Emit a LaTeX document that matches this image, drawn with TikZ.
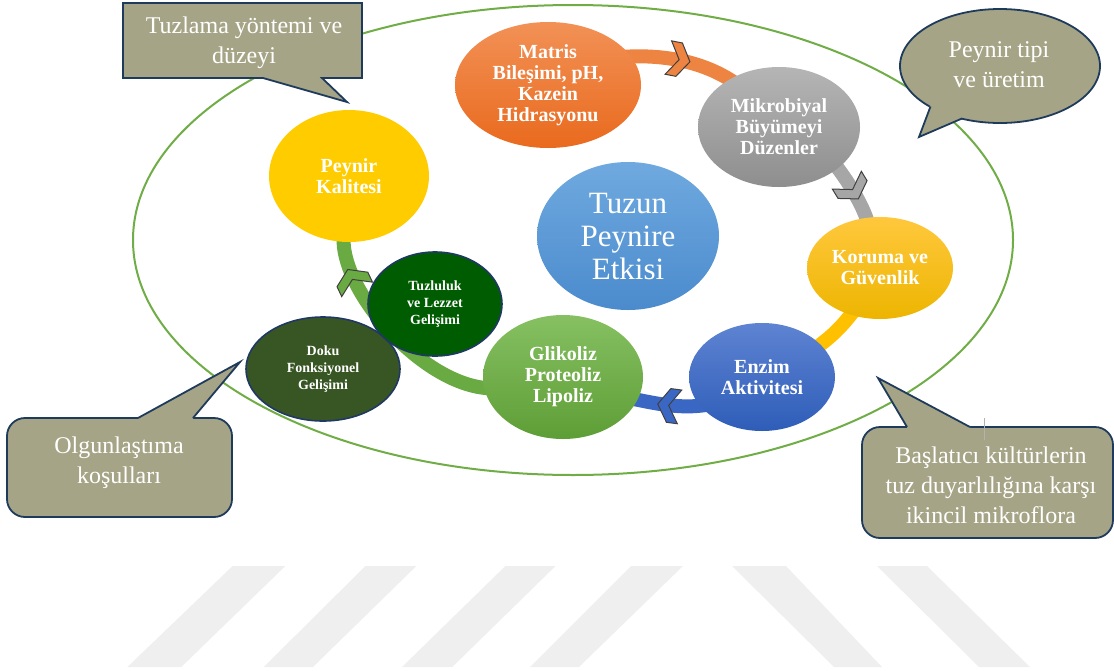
\documentclass[tikz,border=0pt]{standalone}
\usepackage{fontspec}
\setmainfont{Liberation Serif}
\usetikzlibrary{shapes.geometric,decorations.markings}
\pgfdeclarelayer{bg}
\pgfsetlayers{bg,main}
\definecolor{ringgreen}{HTML}{70AD47}
\definecolor{calfill}{HTML}{A6A486}
\definecolor{calline}{HTML}{1F3B5C}
\definecolor{orA}{HTML}{F29156}
\definecolor{orB}{HTML}{E96A1E}
\definecolor{grA}{HTML}{B5B5B5}
\definecolor{grB}{HTML}{8E8E8E}
\definecolor{yeA}{HTML}{FFC83D}
\definecolor{yeB}{HTML}{EDB500}
\definecolor{blA}{HTML}{5E83D2}
\definecolor{blB}{HTML}{2E5DB8}
\definecolor{glA}{HTML}{86C062}
\definecolor{glB}{HTML}{5E9E36}
\definecolor{tzA}{HTML}{6FA9DF}
\definecolor{tzB}{HTML}{4B8BCD}
\definecolor{pkY}{HTML}{FFCC00}
\definecolor{tlG}{HTML}{005C00}
\definecolor{dkG}{HTML}{385623}
\definecolor{nodeline}{HTML}{203864}
\definecolor{chevline}{HTML}{404040}
\definecolor{wm}{HTML}{EFEFEF}
\definecolor{bandor}{HTML}{EE8442}
\definecolor{bandgr}{HTML}{A6A6A6}
\definecolor{bandye}{HTML}{FFC000}
\definecolor{bandbl}{HTML}{3B67C4}
\definecolor{bandgn}{HTML}{6AAA43}
\tikzset{
  bubble/.style={ellipse, inner sep=0pt, text=white, align=center,
    font=\bfseries\fontsize{20}{21}\selectfont},
  smallbubble/.style={bubble, draw=nodeline, line width=1.6pt,
    font=\bfseries\fontsize{14}{17}\selectfont},
  band/.style={line width=14pt, shorten <=-6pt, shorten >=-6pt},
  chev/.style 2 args={postaction={decorate, decoration={markings,
    mark=at position #1 with {\filldraw[fill=#2, draw=chevline, line width=1pt,
      shorten <=0pt, shorten >=0pt, line join=miter]
      (-11,-17) -- (0,-17) -- (11,0) -- (0,17) -- (-11,17) -- (0,0) -- cycle;}}}},
  callout/.style={fill=calfill, draw=calline, line width=1.8pt, line join=miter},
  calledge/.style={draw=calline, line width=1.8pt, line join=miter},
  callouttext/.style={text=white, align=center, inner sep=0pt,
    font=\fontsize{24}{30}\selectfont},
}
\begin{document}
\begin{tikzpicture}[x=1pt, y=-1pt]
\useasboundingbox (0,0) rectangle (1114,670);

% nodes of the cycle
\node[bubble, minimum width=186pt, minimum height=126pt, top color=orA, bottom color=orB]
  (matris) at (548,85) {Matris\\Bileşimi, pH,\\Kazein\\Hidrasyonu};
\node[bubble, minimum width=162pt, minimum height=120pt, top color=grA, bottom color=grB]
  (mikro) at (779,127) {Mikrobiyal\\Büyümeyi\\Düzenler};
\node[bubble, minimum width=146pt, minimum height=102pt, top color=yeA, bottom color=yeB]
  (koruma) at (880,268) {Koruma ve\\Güvenlik};
\node[bubble, minimum width=146pt, minimum height=108pt, top color=blA, bottom color=blB]
  (enzim) at (762,377) {Enzim\\Aktivitesi};
\node[bubble, minimum width=160pt, minimum height=124pt, top color=glA, bottom color=glB]
  (glik) at (563,377) {Glikoliz\\Proteoliz\\Lipoliz};
\node[smallbubble, minimum width=154pt, minimum height=104pt, fill=dkG]
  (doku) at (323,369) {Doku\\Fonksiyonel\\Gelişimi};
\node[smallbubble, minimum width=134pt, minimum height=104pt, fill=tlG]
  (tuzlu) at (435,304) {Tuzluluk\\ve Lezzet\\Gelişimi};
\node[bubble, minimum width=160pt, minimum height=132pt, fill=pkY]
  (kalite) at (349,176) {Peynir\\Kalitesi};
\node[bubble, minimum width=182pt, minimum height=148pt, top color=tzA, bottom color=tzB,
  font=\fontsize{31}{33}\selectfont]
  (tuzun) at (628,236) {Tuzun\\Peynire\\Etkisi};

% callouts
\draw[callout] (123,3) -- (362,3) -- (362,78) -- (322,78) -- (347,102) -- (263,78) -- (123,78) -- cycle;
\node[callouttext] (t1) at (244,43) {Tuzlama yöntemi ve\\düzeyi};

\draw[callout] (1000,66) ellipse [x radius=100, y radius=57];
\fill[calfill] (930,106) -- (919,137) -- (962,118.5) -- (958,110) -- (934,101) -- cycle;
\draw[calledge] (930.5,106.5) -- (919,137) -- (962,118.5);
\node[callouttext] (t2) at (999,65) {Peynir tipi\\ve üretim};

\draw[callout, rounded corners=18pt] (7,418) rectangle (232,517);
\fill[calfill] (138,418) -- (240,362) -- (193,418) -- (193,421) -- (138,421) -- cycle;
\draw[calledge] (138,418) -- (240,362) -- (193,418);
\node[callouttext] (t3) at (119,463) {Olgunlaştıma\\koşulları};

\draw[callout, rounded corners=18pt] (862,427) rectangle (1113,538);
\fill[calfill] (907,427) -- (878,378) -- (970,427) -- (970,430) -- (907,430) -- cycle;
\draw[calledge] (907,427) -- (878,378) -- (970,427);
\node[callouttext] (t4) at (991,485) {Başlatıcı kültürlerin\\tuz duyarlılığına karşı\\ikincil mikroflora};
\draw[gray!60, line width=0.8pt] (984,418) -- (984,440);

\begin{pgfonlayer}{bg}
  % watermark stripes
  \fill[wm] (232.6,566) -- (285.4,566) -- (181.3,667) -- (127.4,667) -- cycle;
  \fill[wm] (365.4,566) -- (416.4,566) -- (313,667) -- (263.8,667) -- cycle;
  \fill[wm] (505.4,566) -- (555.6,566) -- (452.3,667) -- (402,667) -- cycle;
  \fill[wm] (631,566) -- (683,566) -- (579,667) -- (530,667) -- cycle;
  \fill[wm] (732,566) -- (786,566) -- (882,667) -- (834,667) -- cycle;
  \fill[wm] (877,566) -- (927,566) -- (1030,667) -- (979,667) -- cycle;
  % outer ellipse
  \draw[ringgreen, line width=2pt] (573,240) ellipse [x radius=440, y radius=235];
  % cycle bands
  \draw[band, draw=bandor, chev={0.47}{bandor}]
    (matris.19) .. controls +(35,-2) and +(-25,-17) .. (mikro.136);
  \draw[band, draw=bandgr, chev={0.45}{bandgr}]
    (mikro.-35) .. controls +(8,10) and +(-4,-14) .. (koruma.105);
  \draw[band, draw=bandye]
    (koruma.238) .. controls +(-10,13) and +(12,-9) .. (enzim.29);
  \draw[band, draw=bandbl, chev={0.5}{bandbl}]
    (enzim.205) .. controls +(-20,3) and +(20,4) .. (glik.-17);
  \draw[band, draw=bandgn, chev={0.82}{bandgn}]
    (glik.188) .. controls +(-60,-2) and +(-3,50) .. (kalite.265);
\end{pgfonlayer}
\end{tikzpicture}
\end{document}
